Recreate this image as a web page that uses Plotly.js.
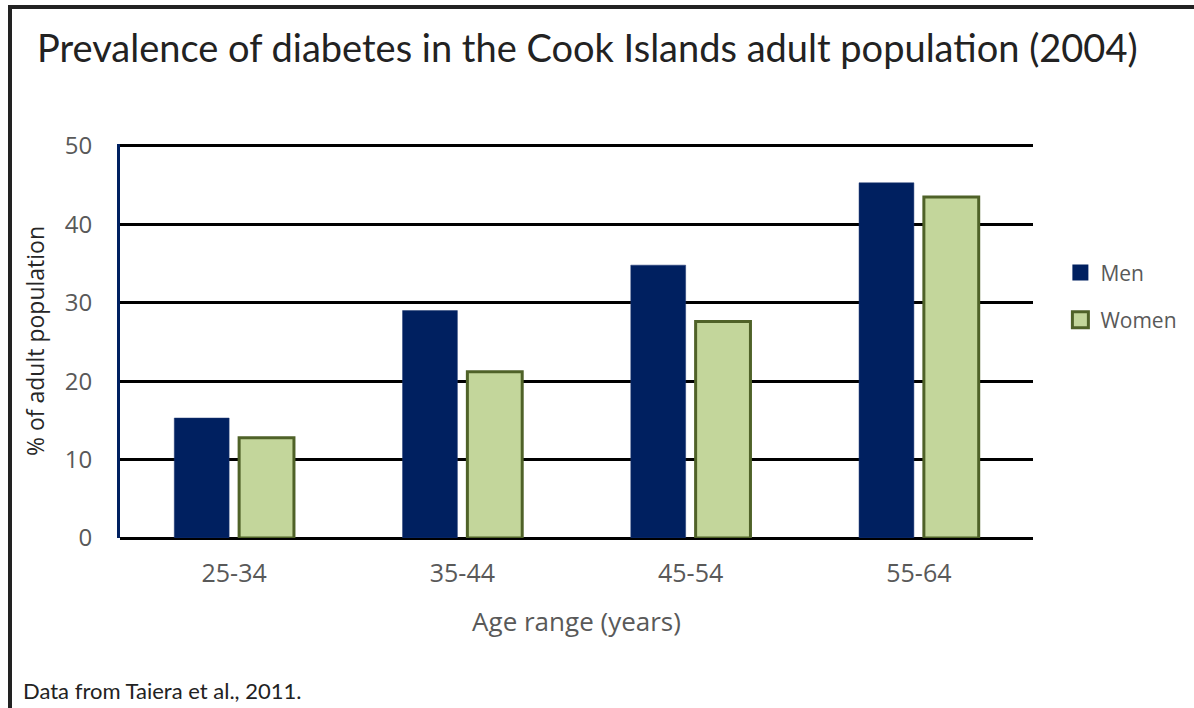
<!DOCTYPE html>
<html>
<head>
<meta charset="utf-8">
<script src="https://cdn.plot.ly/plotly-3.0.1.min.js"></script>
<style>
  html, body { margin: 0; padding: 0; background: #ffffff; }
  #wrap { position: relative; width: 1194px; height: 708px; overflow: hidden; }
  #chart { position: absolute; left: 0; top: 0; width: 1194px; height: 708px; }
  #frame { position: absolute; left: 8px; top: 5px; width: 1200px; height: 720px;
           border: 4px solid #222222; box-sizing: border-box; pointer-events: none; }
</style>
</head>
<body>
<div id="wrap">
  <div id="chart"></div>
  <div id="frame"></div>
</div>
<script>
const categories = ["25-34", "35-44", "45-54", "55-64"];
const menValues = [15.3, 29.0, 34.8, 45.3];
const womenValues = [12.8, 21.2, 27.6, 43.5];
const yTickValues = [0, 10, 20, 30, 40, 50];

const menColor = "#002060";
const womenFill = "#c3d69b";
const womenLine = "#4f6228";

const traces = [
  {
    type: "bar", name: "Men", x: categories, y: menValues,
    showlegend: false,
    marker: { color: menColor, line: { color: "#1c3670", width: 0.5 } },
    hoverinfo: "x+y+name"
  },
  {
    type: "bar", name: "Women", x: categories, y: womenValues,
    showlegend: false,
    marker: { color: womenFill, line: { color: womenLine, width: 3 } },
    hoverinfo: "x+y+name"
  },
  {
    type: "scatter", mode: "markers", name: "Men", x: [null], y: [null],
    legendgroup: "men", hoverinfo: "skip",
    marker: { symbol: "square", size: 18, color: menColor, line: { width: 0 } }
  },
  {
    type: "scatter", mode: "markers", name: "Women", x: [null], y: [null],
    legendgroup: "women", hoverinfo: "skip",
    marker: { symbol: "square", size: 16, color: womenFill, line: { color: womenLine, width: 3 } }
  }
];

const layout = {
  width: 1194, height: 708,
  margin: { l: 120, r: 159, t: 144, b: 170, pad: 0 },
  paper_bgcolor: "#ffffff", plot_bgcolor: "#ffffff",
  barmode: "group", bargap: 0.432, bargroupgap: 0.154,
  font: { family: "Open Sans, sans-serif", color: "#595959" },
  showlegend: true,
  title: {
    text: "Prevalence of diabetes in the Cook Islands adult population (2004)",
    font: { family: "Lato, sans-serif", size: 38, color: "#222222" },
    xref: "container", yref: "container", x: 37 / 1194, xanchor: "left",
    y: 1 - 49 / 708, yanchor: "middle"
  },
  xaxis: {
    type: "category", categoryorder: "array", categoryarray: categories,
    showgrid: false, showline: false, zeroline: false, ticks: "",
    tickfont: { size: 25, color: "#595959" },
    ticklabelstandoff: 18,
    title: { text: "Age range (years)", font: { size: 26, color: "#595959" }, standoff: 24 }
  },
  yaxis: {
    range: [0, 50.25], tickvals: yTickValues, ticktext: yTickValues.map(String),
    showgrid: true, gridcolor: "#000000", gridwidth: 3,
    zeroline: true, zerolinecolor: "#000000", zerolinewidth: 3,
    showline: true, linecolor: "#002060", linewidth: 3,
    ticks: "", ticklabelstandoff: 20,
    tickfont: { size: 24, color: "#595959" },
    title: { text: "% of adult population", font: { size: 23, color: "#262626" }, standoff: 14 }
  },
  legend: {
    x: 1.03, xanchor: "left", y: 0.725, yanchor: "top",
    font: { size: 21, color: "#595959" },
    traceorder: "grouped", tracegroupgap: 17,
    itemsizing: "trace",
    bgcolor: "rgba(0,0,0,0)"
  },
  annotations: [
    {
      text: "Data from Taiera et al., 2011.",
      xref: "paper", yref: "paper",
      x: (21 - 120) / 915, y: -(690 - 538) / 394,
      xanchor: "left", yanchor: "middle", showarrow: false,
      font: { family: "Lato, sans-serif", size: 22, color: "#222222" }
    }
  ]
};

Plotly.newPlot("chart", traces, layout, { displayModeBar: false });
</script>
</body>
</html>
